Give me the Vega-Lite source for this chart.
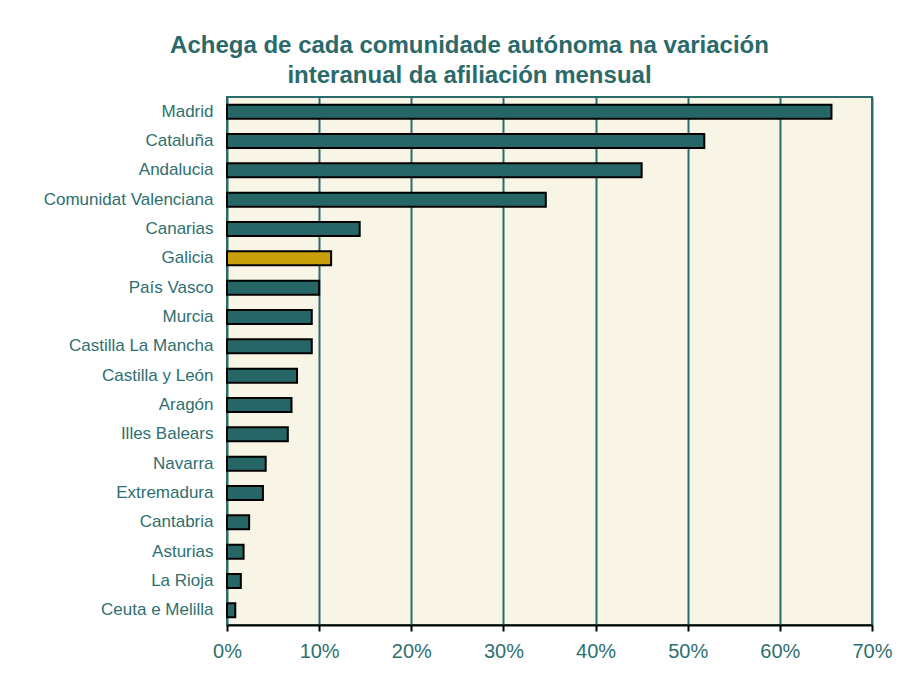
{
  "$schema": "https://vega.github.io/schema/vega-lite/v6.json",
  "width": 645,
  "height": 528,
  "autosize": {"type": "none"},
  "padding": {"left": 227, "top": 97, "right": 31, "bottom": 57},
  "background": "white",
  "title": {
    "text": ["Achega de cada comunidade autónoma na variación", "interanual da afiliación mensual"],
    "font": "Liberation Sans",
    "fontSize": 24,
    "fontWeight": "bold",
    "color": "#2A6A6A",
    "lineHeight": 30,
    "anchor": "middle",
    "dx": -80,
    "offset": 9
  },
  "data": {
    "values": [
      {"comunidade": "Madrid", "achega": 65.6},
      {"comunidade": "Cataluña", "achega": 51.8},
      {"comunidade": "Andalucia", "achega": 45.0},
      {"comunidade": "Comunidat Valenciana", "achega": 34.6},
      {"comunidade": "Canarias", "achega": 14.4},
      {"comunidade": "Galicia", "achega": 11.3},
      {"comunidade": "País Vasco", "achega": 10.0},
      {"comunidade": "Murcia", "achega": 9.2},
      {"comunidade": "Castilla La Mancha", "achega": 9.2},
      {"comunidade": "Castilla y León", "achega": 7.6},
      {"comunidade": "Aragón", "achega": 7.0},
      {"comunidade": "Illes Balears", "achega": 6.6},
      {"comunidade": "Navarra", "achega": 4.2},
      {"comunidade": "Extremadura", "achega": 3.9},
      {"comunidade": "Cantabria", "achega": 2.4},
      {"comunidade": "Asturias", "achega": 1.8},
      {"comunidade": "La Rioja", "achega": 1.5},
      {"comunidade": "Ceuta e Melilla", "achega": 0.9}
    ]
  },
  "mark": {"type": "bar", "stroke": "black", "strokeWidth": 2},
  "encoding": {
    "y": {
      "field": "comunidade",
      "type": "nominal",
      "sort": null,
      "title": null,
      "scale": {"paddingInner": 0.52, "paddingOuter": 0.26},
      "axis": {
        "ticks": false,
        "domain": false,
        "labelFont": "Liberation Sans",
        "labelFontSize": 17,
        "labelColor": "#2E6F6F",
        "labelPadding": 14
      }
    },
    "x": {
      "field": "achega",
      "type": "quantitative",
      "title": null,
      "scale": {"domain": [0, 70], "nice": false},
      "axis": {
        "values": [0, 10, 20, 30, 40, 50, 60, 70],
        "labelExpr": "datum.value + '%'",
        "labelFlush": false,
        "labelOverlap": false,
        "labelFont": "Liberation Sans",
        "labelFontSize": 20,
        "labelColor": "#2E6F6F",
        "labelPadding": 10,
        "domainColor": "black",
        "domainWidth": 2,
        "tickColor": "black",
        "tickWidth": 2,
        "tickSize": 6,
        "grid": true,
        "gridColor": "#2B6B6B",
        "gridWidth": 2,
        "gridOpacity": 1
      }
    },
    "color": {
      "condition": {"test": "datum.comunidade === 'Galicia'", "value": "#C8A00C"},
      "value": "#266666"
    }
  },
  "config": {
    "view": {"fill": "#F8F4E6", "stroke": "#2B6B6B", "strokeWidth": 2}
  }
}
